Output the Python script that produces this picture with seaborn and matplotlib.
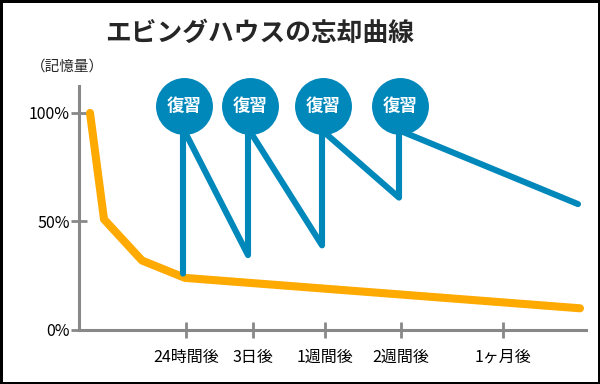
import numpy as np
import pandas as pd
import matplotlib
matplotlib.use("Agg")
import matplotlib.pyplot as plt
import seaborn as sns

# --- data (x in arbitrary timeline units, y in % of memory retained) ---
title = "エビングハウスの忘却曲線"
ylabel = "（記憶量）"
tick_pos = [107, 174, 246, 322, 424]
tick_labels = ["24時間後", "3日後", "1週間後", "2週間後", "1ヶ月後"]
ytick_pos = [0, 50, 100]
ytick_labels = ["0%", "50%", "100%"]

curve_x = [11, 25, 63, 106, 501]
curve_y = [100, 51, 32, 24, 10]

review_x = [104, 104, 169, 169, 243, 243, 320, 320, 499]
review_y = [26, 93, 34.5, 93, 39, 92, 61, 92, 58]

bubble_x = [105, 171, 244, 321]
bubble_y = [103, 103, 103, 103]
bubble_text = "復習"

orange = "#FFAA00"
blue = "#0088BB"
gray = "#888888"

sns.set_style("white")
plt.rcParams["font.family"] = ["Noto Sans CJK JP", "DejaVu Sans"]

fig = plt.figure(figsize=(6, 3.84), dpi=100)
ax = fig.add_axes([79 / 600, 1 - 330 / 384, (586 - 79) / 600, (330 - 86) / 384])

curve = pd.DataFrame({"x": curve_x, "y": curve_y})
review = pd.DataFrame({"x": review_x, "y": review_y})
bubbles = pd.DataFrame({"x": bubble_x, "y": bubble_y})

# forgetting curve (orange) and review curve (blue)
sns.lineplot(data=curve, x="x", y="y", ax=ax, color=orange, lw=5.8,
             sort=False, estimator=None, solid_capstyle="round",
             solid_joinstyle="round", zorder=2)
sns.lineplot(data=review, x="x", y="y", ax=ax, color=blue, lw=4.4,
             sort=False, estimator=None, solid_capstyle="round",
             solid_joinstyle="round", zorder=3)
sns.scatterplot(data=bubbles, x="x", y="y", ax=ax, color=blue, s=1680,
                linewidth=0, zorder=4, clip_on=False)
for bx, by in zip(bubble_x, bubble_y):
    ax.text(bx, by, bubble_text, color="white", fontsize=12.5, fontweight="bold",
            ha="center", va="center", zorder=5)

ax.set_xlim(0, 507)
ax.set_ylim(0, 112.4)
ax.set_xticks(tick_pos)
ax.set_xticklabels(tick_labels)
ax.set_yticks(ytick_pos)
ax.set_yticklabels(ytick_labels)
ax.set_xlabel("")
ax.set_ylabel("")

for side in ["top", "right"]:
    ax.spines[side].set_visible(False)
for side in ["left", "bottom"]:
    ax.spines[side].set_color(gray)
    ax.spines[side].set_linewidth(2.2)
ax.tick_params(axis="both", direction="inout", length=11.5, width=2,
               color=gray, labelsize=11.5, labelcolor="black",
               bottom=True, left=True)
ax.tick_params(axis="x", pad=8)
ax.tick_params(axis="y", pad=1)

fig.text(260 / 600, 1 - 33 / 384, title, fontsize=18.5, fontweight="bold",
         ha="center", va="center")
fig.text(67 / 600, 1 - 67 / 384, ylabel, fontsize=10.5, ha="center", va="center")

fig.patch.set_edgecolor("black")
fig.patch.set_linewidth(2.5)

fig.savefig("out.png", dpi=100)
